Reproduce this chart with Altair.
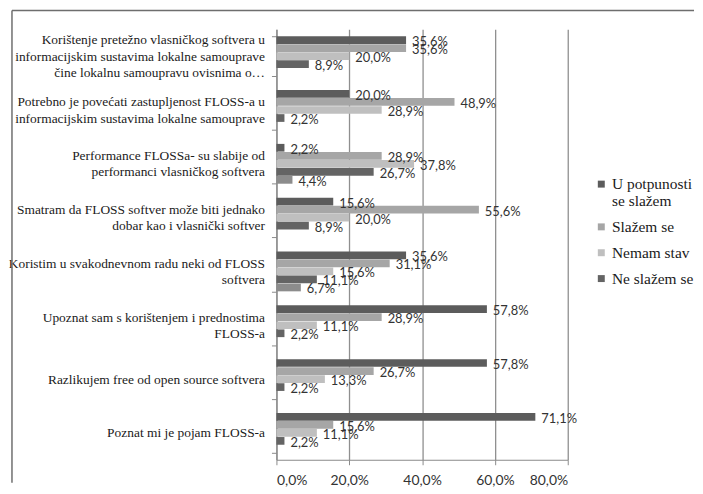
import altair as alt
import pandas as pd

categories = [
    "Korištenje pretežno vlasničkog softvera u\ninformacijskim sustavima lokalne samouprave\nčine lokalnu samoupravu ovisnima o…",
    "Potrebno je povećati zastupljenost FLOSS-a u\ninformacijskim sustavima lokalne samouprave",
    "Performance FLOSSa- su slabije od\nperformanci vlasničkog softvera",
    "Smatram da FLOSS softver može biti jednako\ndobar kao i vlasnički softver",
    "Koristim u svakodnevnom radu neki od FLOSS\nsoftvera",
    "Upoznat sam s korištenjem i prednostima\nFLOSS-a",
    "Razlikujem free od open source softvera",
    "Poznat mi je pojam FLOSS-a",
]

series = ["U potpunosti se slažem", "Slažem se", "Nemam stav", "Ne slažem se", "Uopće se ne slažem"]
legend_series = ["U potpunosti se slažem", "Slažem se", "Nemam stav", "Ne slažem se"]
colors = ["#5c5c5c", "#a6a6a6", "#bfbfbf", "#646464", "#8c8c8c"]

u_potpunosti = [35.6, 20.0, 2.2, 15.6, 35.6, 57.8, 57.8, 71.1]
slazem_se = [35.6, 48.9, 28.9, 55.6, 31.1, 28.9, 26.7, 15.6]
nemam_stav = [20.0, 28.9, 37.8, 20.0, 15.6, 11.1, 13.3, 11.1]
ne_slazem = [8.9, 2.2, 26.7, 8.9, 11.1, 2.2, 2.2, 2.2]
uopce_ne = [0.0, 0.0, 4.4, 0.0, 6.7, 0.0, 0.0, 0.0]

x_ticks = [0, 0.2, 0.4, 0.6, 0.8]

values_by_series = [u_potpunosti, slazem_se, nemam_stav, ne_slazem, uopce_ne]
rows = []
for s, vals in zip(series, values_by_series):
    for c, v in zip(categories, vals):
        rows.append({
            "kategorija": c,
            "serija": s,
            "vrijednost": v / 100.0,
            "oznaka": (f"{v:.1f}%".replace(".", ",")) if v > 0 else "",
        })
df = pd.DataFrame(rows)

W, H = 293, 433
SERIF = "Liberation Serif, Times New Roman, serif"
LH = 16.5

y_enc = alt.Y(
    "kategorija:N",
    sort=categories,
    scale=alt.Scale(paddingInner=0.26, paddingOuter=0.13),
    axis=alt.Axis(
        title=None,
        labelExpr="split(datum.label, '\\n')",
        labelFont=SERIF,
        labelFontSize=13.5,
        labelLineHeight=LH,
        labelColor="#1a1a1a",
        labelLimit=320,
        labelPadding=7,
        labelAlign="right",
        labelOffset={
            "condition": [
                {"test": "length(split(datum.value, '\\n')) == 3", "value": -LH},
                {"test": "length(split(datum.value, '\\n')) == 2", "value": -LH / 2},
            ],
            "value": 0,
        },
        tickBand="extent",
        tickSize=5,
        tickColor="#8a8a8a",
        domainColor="#8a8a8a",
        domainWidth=1.2,
        grid=False,
    ),
)
yoff_enc = alt.YOffset("serija:N", sort=series, scale=alt.Scale(paddingInner=0.04))

x_enc = alt.X(
    "vrijednost:Q",
    scale=alt.Scale(domain=[0, 0.8], nice=False),
    axis=alt.Axis(
        title=None,
        values=x_ticks,
        labelExpr="replace(format(datum.value, '.1%'), '.', ',')",
        labelFont="Lato",
        labelFontSize=14,
        labelColor="#333333",
        labelPadding=9,
        tickSize=5,
        tickColor="#8a8a8a",
        domainColor="#8a8a8a",
        domainWidth=1.2,
        grid=True,
        gridColor="#8f8f8f",
        gridWidth=1.3,
    ),
)

color_enc = alt.Color(
    "serija:N",
    scale=alt.Scale(domain=series, range=colors),
    legend=alt.Legend(
        title=None,
        values=legend_series,
        orient="none",
        legendX=319,
        legendY=148,
        symbolType="square",
        symbolSize=49,
        symbolStrokeWidth=0,
        labelFont=SERIF,
        labelFontSize=15.5,
        labelColor="#1a1a1a",
        labelOffset=3,
        rowPadding=9,
        padding=0,
        labelLimit=200,
        labelExpr="datum.label == 'U potpunosti se slažem' ? ['U potpunosti', 'se slažem'] : datum.label",
    ),
)

bars = alt.Chart(df).mark_bar().encode(
    y=y_enc,
    yOffset=yoff_enc,
    x=x_enc,
    color=color_enc,
)

labels = alt.Chart(df).mark_text(
    align="left", baseline="middle", dx=6, dy=2,
    font="Lato", fontSize=13, color="#333333",
).encode(
    y=alt.Y("kategorija:N", sort=categories),
    yOffset=alt.YOffset("serija:N", sort=series),
    x="vrijednost:Q",
    text="oznaka:N",
)

frame_df = pd.DataFrame({"k": [0]})
frame_top = alt.Chart(frame_df).mark_rule(color="#6e6e6e", strokeWidth=1.5).encode(
    x=alt.value(-266), x2=alt.value(420), y=alt.value(-19)
)
frame_left = alt.Chart(frame_df).mark_rule(color="#6e6e6e", strokeWidth=1.5).encode(
    x=alt.value(-266), y=alt.value(-19), y2=alt.value(456)
)

chart = alt.layer(bars, labels, frame_top, frame_left).properties(
    width=W, height=H, padding=0, background="white"
).configure_view(stroke=None)

chart.save("out.html", embed_options={"renderer": "svg", "actions": False})
